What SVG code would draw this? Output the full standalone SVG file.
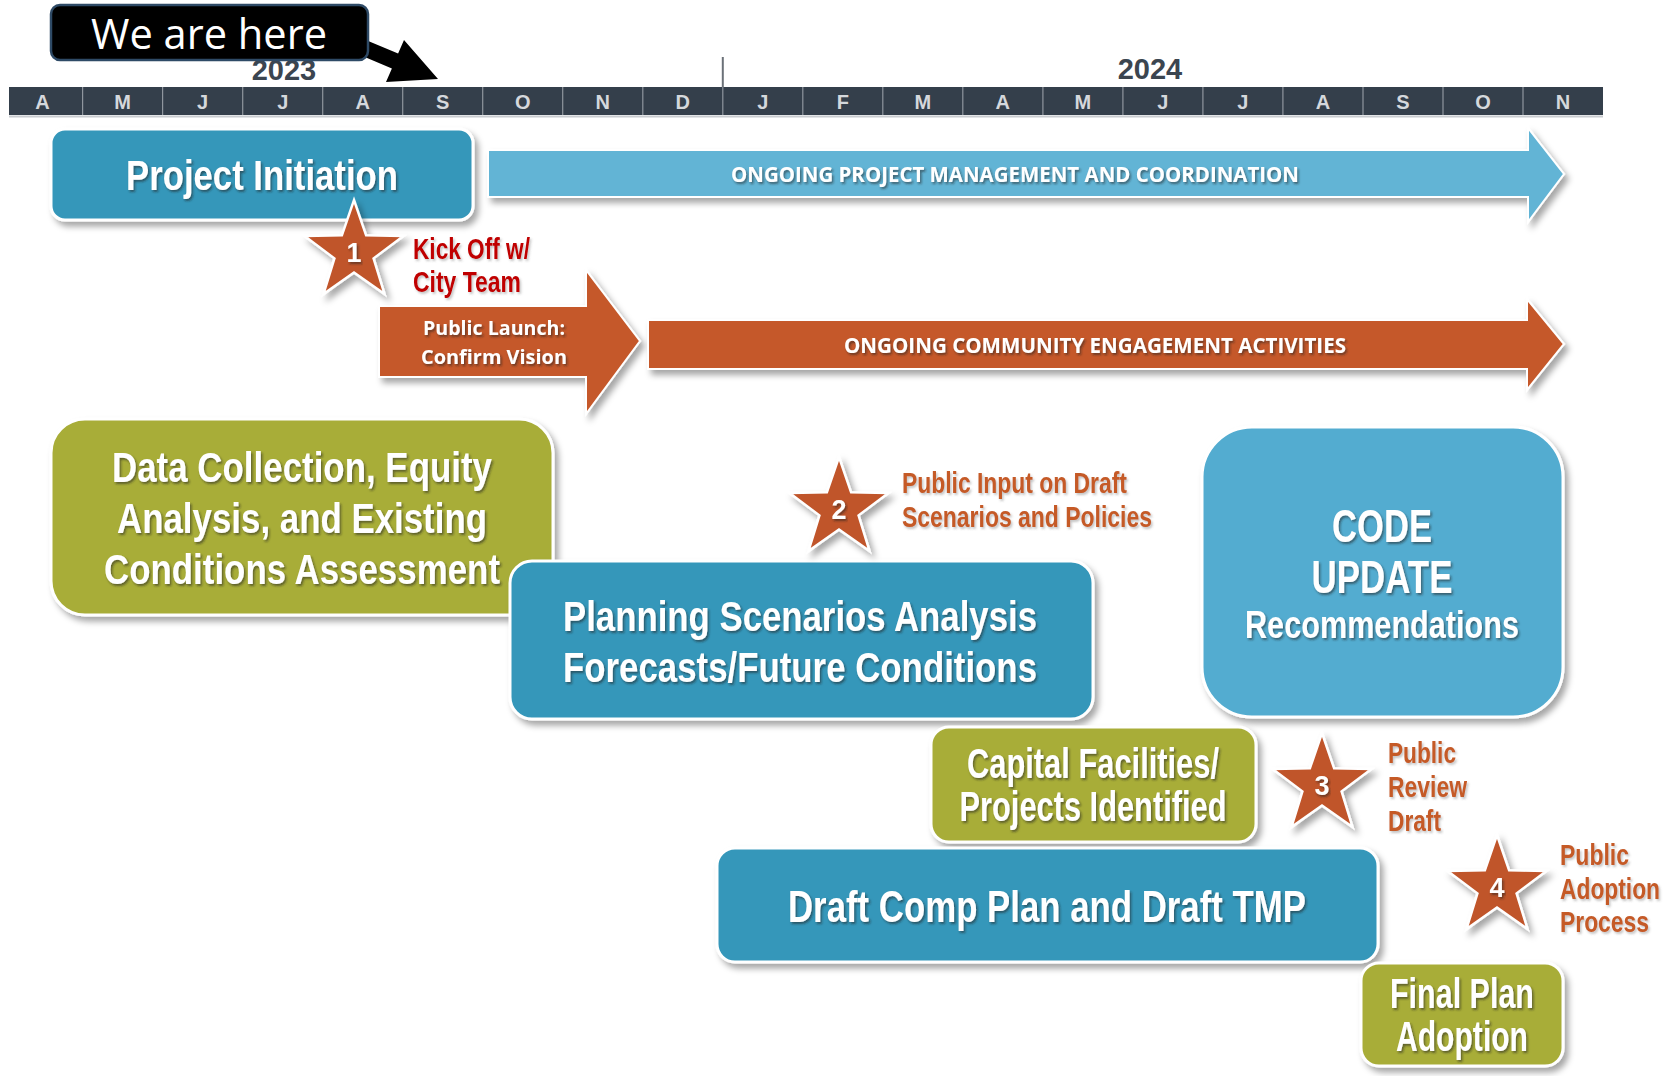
<svg xmlns="http://www.w3.org/2000/svg" width="1672" height="1076" viewBox="0 0 1672 1076">
<defs>
  <filter id="sh" x="-10%" y="-10%" width="130%" height="140%">
    <feDropShadow dx="4" dy="5" stdDeviation="3" flood-color="#000" flood-opacity="0.35"/>
  </filter>
  <filter id="tsh" x="-5%" y="-20%" width="110%" height="150%">
    <feDropShadow dx="1.5" dy="2" stdDeviation="1" flood-color="#222" flood-opacity="0.55"/>
  </filter>
  <filter id="tsh2" x="-5%" y="-20%" width="110%" height="150%">
    <feDropShadow dx="1.5" dy="2" stdDeviation="1" flood-color="#555" flood-opacity="0.35"/>
  </filter>
  <path id="star" d="M0,-52 L12.1,-16.65 L49.45,-16.07 L19.58,6.36 L30.57,42.07 L0,20.6 L-30.57,42.07 L-19.58,6.36 L-49.45,-16.07 L-12.1,-16.65 Z"/>
</defs>
<style>
 .nar{font-family:"Liberation Sans Narrow","Liberation Sans",Arial,sans-serif;font-weight:bold;}
 .cal{font-family:"Open Sans","Liberation Sans",sans-serif;}
 .calb{font-family:"Open Sans","Liberation Sans",sans-serif;font-weight:bold;}
 .wt{fill:#fff;filter:url(#tsh);}
 .box{stroke:#fff;stroke-width:3;filter:url(#sh);}
 .teal{fill:#3497ba}
 .olive{fill:#a8ad39}
 .lblue{fill:#52acd0}
 .pm{fill:#62b4d5;stroke:#fff;stroke-width:2;filter:url(#sh)}
 .orng{fill:#c5582a;stroke:#fff;stroke-width:2;filter:url(#sh)}
 .st{fill:#c0542a;stroke:#fff;stroke-width:2.5;filter:url(#sh)}
 .lab{fill:#c55a28;font-size:29px;filter:url(#tsh2)}
 .red{fill:#c00000;font-size:29px;filter:url(#tsh2)}
 .mo{fill:#d5d8dc;font-size:20px;text-anchor:middle;font-family:"Liberation Sans Narrow","Liberation Sans",Arial,sans-serif;font-weight:bold}
 .yr{fill:#3b4550;font-size:29px;text-anchor:middle}
 .ttl{font-size:42px;text-anchor:middle}
 .sep{stroke:#8f969e;stroke-width:1.2}
 .num{font-size:27px;text-anchor:middle}
</style>
<rect width="1672" height="1076" fill="#fff"/>

<g id="timeline">
  <text class="nar yr" x="284" y="80">2023</text>
  <text class="nar yr" x="1150" y="79">2024</text>
  <line x1="722.8" y1="57" x2="722.8" y2="87" stroke="#6b7178" stroke-width="2"/>
  <rect x="9" y="87" width="1594" height="28" fill="#343f4b"/>
  <line x1="9" y1="116.5" x2="1603" y2="116.5" stroke="#c8cbcf" stroke-width="2"/>
  <g class="sep">
    <line x1="82.6" y1="87" x2="82.6" y2="115"/><line x1="162.6" y1="87" x2="162.6" y2="115"/>
    <line x1="242.7" y1="87" x2="242.7" y2="115"/><line x1="322.7" y1="87" x2="322.7" y2="115"/>
    <line x1="402.7" y1="87" x2="402.7" y2="115"/><line x1="482.7" y1="87" x2="482.7" y2="115"/>
    <line x1="562.7" y1="87" x2="562.7" y2="115"/><line x1="642.8" y1="87" x2="642.8" y2="115"/>
    <line x1="722.8" y1="87" x2="722.8" y2="115"/><line x1="802.8" y1="87" x2="802.8" y2="115"/>
    <line x1="882.8" y1="87" x2="882.8" y2="115"/><line x1="962.8" y1="87" x2="962.8" y2="115"/>
    <line x1="1042.9" y1="87" x2="1042.9" y2="115"/><line x1="1122.9" y1="87" x2="1122.9" y2="115"/>
    <line x1="1202.9" y1="87" x2="1202.9" y2="115"/><line x1="1282.9" y1="87" x2="1282.9" y2="115"/>
    <line x1="1363" y1="87" x2="1363" y2="115"/><line x1="1443" y1="87" x2="1443" y2="115"/>
    <line x1="1523" y1="87" x2="1523" y2="115"/>
  </g>
  <g class="mo">
    <text x="42.6" y="109">A</text><text x="122.6" y="109">M</text><text x="202.6" y="109">J</text>
    <text x="282.7" y="109">J</text><text x="362.7" y="109">A</text><text x="442.7" y="109">S</text>
    <text x="522.7" y="109">O</text><text x="602.7" y="109">N</text><text x="682.8" y="109">D</text>
    <text x="762.8" y="109">J</text><text x="842.8" y="109">F</text><text x="922.8" y="109">M</text>
    <text x="1002.8" y="109">A</text><text x="1082.9" y="109">M</text><text x="1162.9" y="109">J</text>
    <text x="1242.9" y="109">J</text><text x="1322.9" y="109">A</text><text x="1403" y="109">S</text>
    <text x="1483" y="109">O</text><text x="1563" y="109">N</text>
  </g>
</g>

<g id="connectors">
  <polygon points="352,34.3 398.1,53.6 404,40 438,79 386,82 391.9,68.4 345.8,49.1" fill="#000"/>
</g>

<g id="we-are-here">
  <rect x="51" y="5" width="317" height="55" rx="9" fill="#000" stroke="#2e4a66" stroke-width="2.5"/>
  <text class="cal" x="209" y="49" font-size="42" fill="#fff" text-anchor="middle" textLength="236" lengthAdjust="spacingAndGlyphs">We are here</text>
</g>

<g id="project-initiation">
  <rect class="box teal" x="51" y="129" width="422" height="91" rx="14"/>
  <text class="nar wt ttl" x="262" y="190" textLength="272" lengthAdjust="spacingAndGlyphs">Project Initiation</text>
</g>

<g id="ongoing-pm">
  <path class="pm" d="M488,150 H1528 V128 L1564,174 L1528,222 V197 H488 Z"/>
  <text class="calb wt" x="1015" y="182" font-size="22" text-anchor="middle" textLength="568" lengthAdjust="spacingAndGlyphs">ONGOING PROJECT MANAGEMENT AND COORDINATION</text>
</g>

<g id="public-launch">
  <path class="orng" d="M379,306 H586 V270 L640,341 L586,414 V377 H379 Z"/>
  <text class="calb wt" x="494" y="335" font-size="20" text-anchor="middle" textLength="142" lengthAdjust="spacingAndGlyphs">Public Launch:</text>
  <text class="calb wt" x="494" y="364" font-size="20" text-anchor="middle" textLength="146" lengthAdjust="spacingAndGlyphs">Confirm Vision</text>
</g>

<g id="ongoing-community">
  <path class="orng" d="M648,320 H1527 V299 L1564,344 L1527,390 V369 H648 Z"/>
  <text class="calb wt" x="1095" y="353" font-size="22" text-anchor="middle" textLength="502" lengthAdjust="spacingAndGlyphs">ONGOING COMMUNITY ENGAGEMENT ACTIVITIES</text>
</g>

<g id="milestone-1">
  <use href="#star" class="st" transform="translate(354,252)"/>
  <text class="nar wt num" x="354" y="262">1</text>
  <text class="nar red" x="413" y="259" textLength="117" lengthAdjust="spacingAndGlyphs">Kick Off w/</text>
  <text class="nar red" x="413" y="292" textLength="108" lengthAdjust="spacingAndGlyphs">City Team</text>
</g>

<g id="data-collection">
  <rect class="box olive" x="51" y="419" width="502" height="196" rx="34"/>
  <text class="nar wt ttl" x="302" y="482" textLength="380" lengthAdjust="spacingAndGlyphs">Data Collection, Equity</text>
  <text class="nar wt ttl" x="302" y="533" textLength="370" lengthAdjust="spacingAndGlyphs">Analysis, and Existing</text>
  <text class="nar wt ttl" x="302" y="584" textLength="396" lengthAdjust="spacingAndGlyphs">Conditions Assessment</text>
</g>

<g id="planning-scenarios">
  <rect class="box teal" x="510" y="561" width="583" height="158" rx="22"/>
  <text class="nar wt ttl" x="800" y="631" textLength="474" lengthAdjust="spacingAndGlyphs">Planning Scenarios Analysis</text>
  <text class="nar wt ttl" x="800" y="682" textLength="474" lengthAdjust="spacingAndGlyphs">Forecasts/Future Conditions</text>
</g>

<g id="milestone-2">
  <use href="#star" class="st" transform="translate(839,509)"/>
  <text class="nar wt num" x="839" y="519">2</text>
  <text class="nar lab" x="902" y="493" textLength="225" lengthAdjust="spacingAndGlyphs">Public Input on Draft</text>
  <text class="nar lab" x="902" y="527" textLength="250" lengthAdjust="spacingAndGlyphs">Scenarios and Policies</text>
</g>

<g id="code-update">
  <rect class="box lblue" x="1202" y="427" width="361" height="290" rx="50"/>
  <text class="nar wt" x="1382" y="542" font-size="47" text-anchor="middle" textLength="100" lengthAdjust="spacingAndGlyphs">CODE</text>
  <text class="nar wt" x="1382" y="593" font-size="47" text-anchor="middle" textLength="141" lengthAdjust="spacingAndGlyphs">UPDATE</text>
  <text class="nar wt" x="1382" y="638" font-size="39" text-anchor="middle" textLength="274" lengthAdjust="spacingAndGlyphs">Recommendations</text>
</g>

<g id="capital-facilities">
  <rect class="box olive" x="931" y="727" width="325" height="115" rx="18"/>
  <text class="nar wt ttl" x="1093" y="778" textLength="252" lengthAdjust="spacingAndGlyphs">Capital Facilities/</text>
  <text class="nar wt ttl" x="1093" y="821" textLength="267" lengthAdjust="spacingAndGlyphs">Projects Identified</text>
</g>

<g id="milestone-3">
  <use href="#star" class="st" transform="translate(1322,785)"/>
  <text class="nar wt num" x="1322" y="795">3</text>
  <text class="nar lab" x="1388" y="763" textLength="68" lengthAdjust="spacingAndGlyphs">Public</text>
  <text class="nar lab" x="1388" y="797" textLength="79" lengthAdjust="spacingAndGlyphs">Review</text>
  <text class="nar lab" x="1388" y="831" textLength="53" lengthAdjust="spacingAndGlyphs">Draft</text>
</g>

<g id="draft-plan">
  <rect class="box teal" x="717" y="848" width="661" height="114" rx="18"/>
  <text class="nar wt" x="1047" y="922" font-size="44" text-anchor="middle" textLength="518" lengthAdjust="spacingAndGlyphs">Draft Comp Plan and Draft TMP</text>
</g>

<g id="milestone-4">
  <use href="#star" class="st" transform="translate(1497,887)"/>
  <text class="nar wt num" x="1497" y="897">4</text>
  <text class="nar lab" x="1560" y="865" textLength="69" lengthAdjust="spacingAndGlyphs">Public</text>
  <text class="nar lab" x="1560" y="899" textLength="100" lengthAdjust="spacingAndGlyphs">Adoption</text>
  <text class="nar lab" x="1560" y="932" textLength="89" lengthAdjust="spacingAndGlyphs">Process</text>
</g>

<g id="final-adoption">
  <rect class="box olive" x="1361" y="963" width="202" height="103" rx="18"/>
  <text class="nar wt ttl" x="1462" y="1008" textLength="144" lengthAdjust="spacingAndGlyphs">Final Plan</text>
  <text class="nar wt ttl" x="1462" y="1051" textLength="132" lengthAdjust="spacingAndGlyphs">Adoption</text>
</g>
</svg>
